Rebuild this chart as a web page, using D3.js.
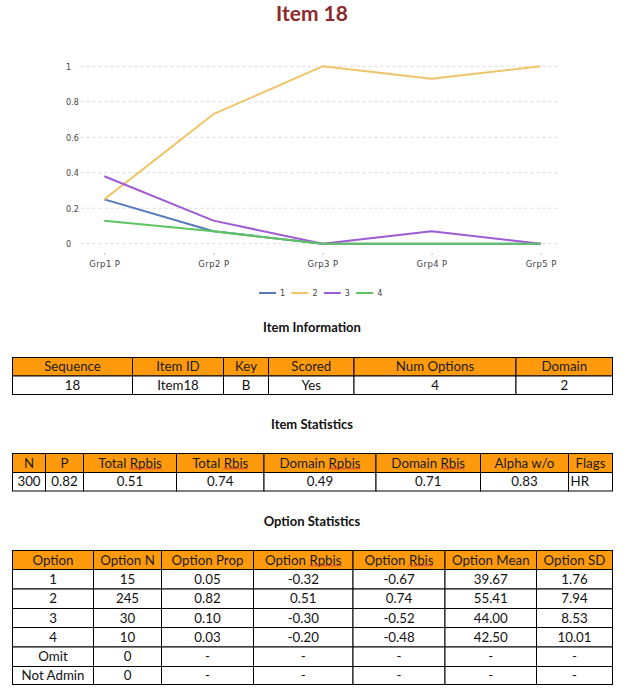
<!DOCTYPE html>
<html><head><meta charset="utf-8">
<script src="https://cdn.jsdelivr.net/npm/d3@7/dist/d3.min.js"></script>
<style>body{margin:0;background:#fff}svg{display:block}</style>
</head><body>
<svg id="c" width="641" height="698"></svg>
<script>
// ---------- data ----------
const title = "Item 18";
const groups = ["Grp1 P", "Grp2 P", "Grp3 P", "Grp4 P", "Grp5 P"];
const seriesNames = ["1", "2", "3", "4"];
const series1 = [0.25, 0.07, 0, 0, 0];
const series2 = [0.25, 0.73, 1, 0.93, 1];
const series3 = [0.38, 0.13, 0, 0.07, 0];
const series4 = [0.13, 0.07, 0, 0, 0];
const yTicks = [0, 0.2, 0.4, 0.6, 0.8, 1];
const yTickLabels = ["0", "0.2", "0.4", "0.6", "0.8", "1"];

const infoTitle = "Item Information";
const infoHeaders = ["Sequence", "Item ID", "Key", "Scored", "Num Options", "Domain"];
const infoValues = ["18", "Item18", "B", "Yes", "4", "2"];

const statsTitle = "Item Statistics";
const statsHeaders = ["N", "P", "Total Rpbis", "Total Rbis", "Domain Rpbis", "Domain Rbis", "Alpha w/o", "Flags"];
const statsValues = ["300", "0.82", "0.51", "0.74", "0.49", "0.71", "0.83", "HR"];

const optTitle = "Option Statistics";
const optHeaders = ["Option", "Option N", "Option Prop", "Option Rpbis", "Option Rbis", "Option Mean", "Option SD"];
const optLabels = ["1", "2", "3", "4", "Omit", "Not Admin"];
const optN = ["15", "245", "30", "10", "0", "0"];
const optProp = ["0.05", "0.82", "0.10", "0.03", "-", "-"];
const optRpbis = ["-0.32", "0.51", "-0.30", "-0.20", "-", "-"];
const optRbis = ["-0.67", "0.74", "-0.52", "-0.48", "-", "-"];
const optMean = ["39.67", "55.41", "44.00", "42.50", "-", "-"];
const optSD = ["1.76", "7.94", "8.53", "10.01", "-", "-"];

// ---------- layout / style ----------
const colors = ["#5577bb", "#f0c468", "#9f5bd4", "#5cc560"];
const svg = d3.select("#c");
const chartFont = "'DejaVu Sans', sans-serif";
const tableFont = "Lato, 'Open Sans', sans-serif";

svg.append("text").attr("x", 312).attr("y", 21).attr("text-anchor", "middle")
  .attr("font-family", tableFont).attr("font-weight", 700).attr("font-size", 21)
  .attr("fill", "#8b2a2c").text(title);

const x = d3.scalePoint().domain(groups).range([104.3, 540.7]);
const y = d3.scaleLinear().domain([0, 1]).range([243.7, 66.3]);

// grid
const grid = svg.append("g");
grid.selectAll("line").data(yTicks).join("line")
  .attr("x1", 80.5).attr("x2", 558).attr("y1", d => y(d)).attr("y2", d => y(d))
  .attr("stroke", "#d9d9d9").attr("stroke-width", 1).attr("stroke-dasharray", "3,3");
// y labels
const yAxis = d3.axisLeft(y).tickValues(yTicks).tickSize(0).tickFormat((d, i) => yTickLabels[i]);
const gy = svg.append("g").attr("transform", "translate(66,0)").call(yAxis);
gy.select(".domain").remove();
gy.selectAll("text").attr("text-anchor", "start").attr("x", 0).attr("dy", "0.35em")
  .attr("font-family", chartFont).attr("font-size", 8).attr("fill", "#444");
// x axis
const xAxis = d3.axisBottom(x).tickSize(2).tickPadding(6);
const gx = svg.append("g").attr("transform", "translate(0,253)").call(xAxis);
gx.select(".domain").remove();
gx.selectAll("line").attr("stroke", "#bbb");
gx.selectAll("text").attr("font-family", chartFont).attr("font-size", 8.5).attr("fill", "#444")
  .attr("letter-spacing", 0.4);

// lines
const allSeries = [series1, series2, series3, series4];
const line = d3.line().x((d, i) => x(groups[i])).y(d => y(d));
svg.append("g").selectAll("path").data(allSeries).join("path")
  .attr("d", line).attr("fill", "none").attr("stroke", (d, i) => colors[i])
  .attr("stroke-width", 2).attr("stroke-linejoin", "round");

// legend
const leg = svg.append("g").attr("transform", "translate(259,293)");
const li = leg.selectAll("g").data(seriesNames).join("g")
  .attr("transform", (d, i) => `translate(${i * 32.4},0)`);
li.append("line").attr("x1", 0).attr("x2", 17).attr("stroke", (d, i) => colors[i]).attr("stroke-width", 2);
li.append("text").attr("x", 21).attr("dy", "0.35em").attr("font-family", chartFont)
  .attr("font-size", 8).attr("fill", "#444").text(d => d);

// ---------- tables ----------
const orange = "#ff9a0c";
function squiggle(textSel, word) {
  const node = textSel.node();
  const str = node.textContent;
  const idx = str.indexOf(word);
  if (idx < 0) return;
  const a = node.getExtentOfChar(idx);
  const b = node.getExtentOfChar(idx + word.length - 1);
  const x0 = a.x, x1 = b.x + b.width;
  const yb = a.y + a.height - 1.2;
  let p = `M${x0},${yb}`;
  let up = true;
  for (let xx = x0 + 1.6; xx <= x1 + 0.1; xx += 1.6) { p += `L${xx},${yb + (up ? -1.7 : 0)}`; up = !up; }
  d3.select(node.parentNode).append("path").attr("d", p).attr("fill", "none")
    .attr("stroke", "#e03535").attr("stroke-width", 1);
}
function drawTable(t, edges, rowsY, header, rows, leftCols) {
  const g = svg.append("g");
  g.append("text").attr("x", 312).attr("y", t.y).attr("text-anchor", "middle")
    .attr("font-family", tableFont).attr("font-weight", 700).attr("font-size", 13)
    .attr("fill", "#111").text(t.title);
  const allRows = [header].concat(rows);
  allRows.forEach((row, r) => {
    const y0 = rowsY[r], y1 = rowsY[r + 1];
    row.forEach((val, c) => {
      const x0 = edges[c], x1 = edges[c + 1];
      const cg = g.append("g");
      cg.append("rect").attr("x", x0).attr("y", y0).attr("width", x1 - x0).attr("height", y1 - y0)
        .attr("fill", r === 0 ? orange : "#fff").attr("stroke", "#000").attr("stroke-width", 1);
      const left = r > 0 && leftCols.includes(c);
      const tx = cg.append("text").attr("x", left ? x0 + 2 : (x0 + x1) / 2).attr("y", (y0 + y1) / 2 + 4.7)
        .attr("text-anchor", left ? "start" : "middle").attr("font-family", tableFont)
        .attr("font-size", 13.3).attr("fill", r === 0 ? "#1c1c1c" : "#111").text(val);
      if (r === 0) { if (/Rpbis/.test(val)) squiggle(tx, "Rpbis"); else if (/Rbis/.test(val)) squiggle(tx, "Rbis"); }
    });
  });
}

drawTable({ title: infoTitle, y: 332 }, [12.5, 132.5, 223.5, 268.5, 354, 516, 612.5],
  [357.5, 376, 394.5], infoHeaders, [infoValues], []);
drawTable({ title: statsTitle, y: 429 }, [12.5, 45.5, 83.5, 176.5, 264, 376, 480.5, 568.5, 612.5],
  [453.5, 472.5, 491], statsHeaders, [statsValues], [7]);
const optRows = optLabels.map((l, i) => [l, optN[i], optProp[i], optRpbis[i], optRbis[i], optMean[i], optSD[i]]);
drawTable({ title: optTitle, y: 526 }, [12.5, 93.5, 161.5, 253.5, 353, 445, 536.5, 612.5],
  [550.5, 569.5, 589, 608.5, 627.5, 647, 666.5, 684.5], optHeaders, optRows, []);
</script>
</body></html>
